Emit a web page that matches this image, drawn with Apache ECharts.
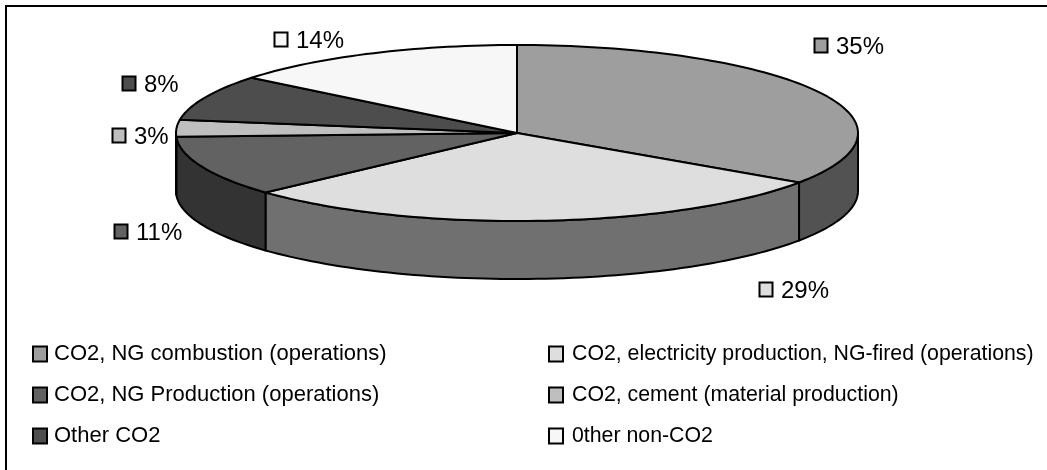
<!DOCTYPE html>
<html>
<head>
<meta charset="utf-8">
<style>
  html, body { margin: 0; padding: 0; background: #fff; }
  #chart { width: 1047px; height: 470px; }
</style>
<script src="https://cdn.jsdelivr.net/npm/echarts@6/dist/echarts.min.js"></script>
</head>
<body>
<div id="chart"></div>
<script>
// slice shares, clockwise from 12 o'clock
var categories = [
  'CO2, NG combustion (operations)',
  'CO2, electricity production, NG-fired (operations)',
  'CO2, NG Production (operations)',
  'CO2, cement (material production)',
  'Other CO2',
  '0ther non-CO2'
]
var shares = [34.5, 28.7, 11.1, 3.1, 8.4, 14.2]
var shareLabels = ['35%', '29%', '11%', '3%', '8%', '14%']

var topColors = ['#9e9e9e', '#dedede', '#626262', '#bfbfbf', '#4d4d4d', '#f7f7f7']
var sideColors = ['#525252', '#707070', '#333333', '#333333', '#333333', '#333333']

// pie geometry
var cx = 517
var cy = 133
var rx = 341
var ry = 88
var depth = 58
// marker corner of each percent label
var labelX = [814, 759, 114, 112, 122, 274]
var labelY = [38, 282, 224, 128, 76, 32]

var total = shares.reduce(function (a, b) { return a + b }, 0)

function rimPoint(deg, dy) {
  var t = (deg * Math.PI) / 180
  return [cx + rx * Math.sin(t), cy - ry * Math.cos(t) + (dy || 0)]
}

function arcPoints(from, to, dy) {
  var pts = []
  var n = Math.max(2, Math.ceil((to - from) / 1.5))
  for (var i = 0; i <= n; i++) {
    pts.push(rimPoint(from + ((to - from) * i) / n, dy))
  }
  return pts
}

var lineStyle = { stroke: '#000', lineWidth: 2, lineJoin: 'round' }

function renderSlice(index) {
  return function () {
    var before = shares.slice(0, index).reduce(function (a, b) { return a + b }, 0)
    var from = (before / total) * 360
    var to = ((before + shares[index]) / total) * 360
    var children = []

    // front wall, only the part facing the viewer
    var a = Math.max(from, 90)
    var b = Math.min(to, 270)
    if (b > a) {
      var wall = arcPoints(a, b, 0).concat(arcPoints(a, b, depth).reverse())
      children.push({
        type: 'polygon',
        shape: { points: wall },
        style: Object.assign({ fill: sideColors[index] }, lineStyle)
      })
    }

    // top face
    children.push({
      type: 'polygon',
      shape: { points: [[cx, cy]].concat(arcPoints(from, to, 0)) },
      style: Object.assign({ fill: topColors[index] }, lineStyle)
    })

    // percent label with its little key
    children.push({
      type: 'rect',
      shape: { x: labelX[index] + 0.5, y: labelY[index] + 0.5, width: 13, height: 14 },
      style: { fill: topColors[index], stroke: '#000', lineWidth: 2 },
      z2: 10
    })
    children.push({
      type: 'text',
      x: labelX[index] + 22,
      y: labelY[index] + 9,
      style: {
        text: shareLabels[index],
        font: '24px "Liberation Sans"',
        fill: '#000',
        verticalAlign: 'middle'
      },
      z2: 10
    })
    return { type: 'group', children: children }
  }
}

var series = categories.map(function (name, i) {
  return {
    name: name,
    type: 'custom',
    coordinateSystem: 'none',
    silent: true,
    animation: false,
    clip: false,
    data: [shares[i]],
    itemStyle: { color: topColors[i] },
    renderItem: renderSlice(i)
  }
})

function legendColumn(left, names, fontSize, textGap) {
  return {
    orient: 'vertical',
    left: left,
    top: 343,
    data: names,
    icon: 'rect',
    itemWidth: 14,
    itemHeight: 15,
    itemGap: 19,
    padding: 0,
    selectedMode: false,
    itemStyle: { borderColor: '#000', borderWidth: 2 },
    textStyle: {
      color: '#000',
      fontFamily: 'Liberation Sans',
      fontSize: fontSize,
      lineHeight: 22,
      padding: [0, 0, 0, textGap]
    }
  }
}

var myChart = echarts.init(document.getElementById('chart'), null, { renderer: 'canvas' })

myChart.setOption({
  backgroundColor: '#fff',
  animation: false,
  legend: [
    legendColumn(32, [categories[0], categories[2], categories[4]], 22, 2),
    legendColumn(548, [categories[1], categories[3], categories[5]], 21.3, 4)
  ],
  graphic: [
    {
      type: 'rect',
      silent: true,
      shape: { x: 6, y: 6, width: 1100, height: 600 },
      style: { fill: 'none', stroke: '#000', lineWidth: 2 }
    }
  ],
  series: series
})
</script>
</body>
</html>
